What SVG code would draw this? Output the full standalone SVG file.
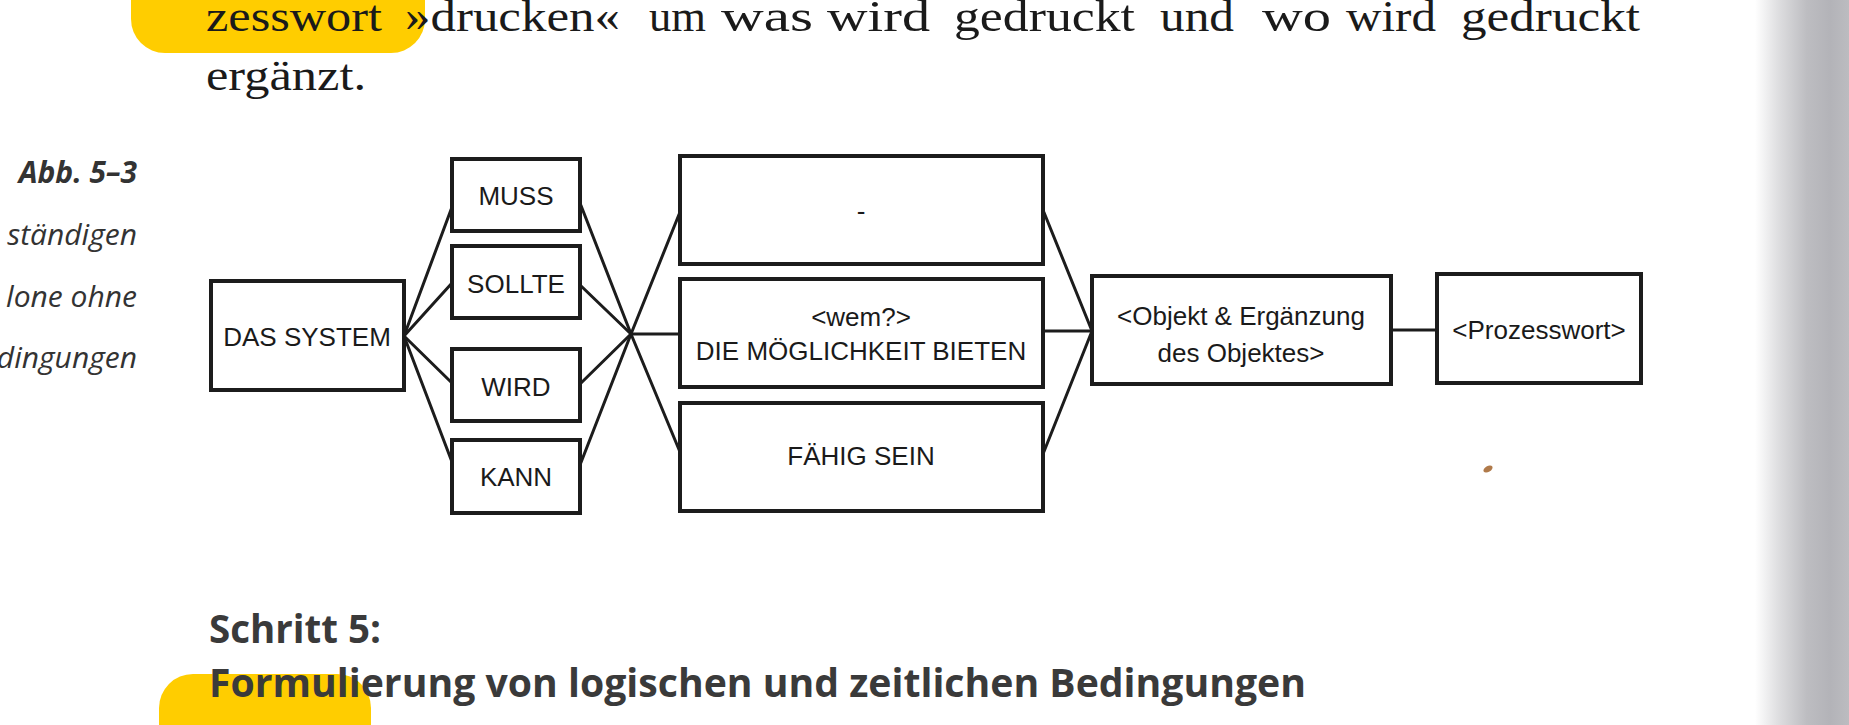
<svg xmlns="http://www.w3.org/2000/svg" width="1849" height="725" viewBox="0 0 1849 725">
<defs>
<linearGradient id="edge" x1="0" y1="0" x2="1" y2="0">
<stop offset="0" stop-color="#ffffff"/>
<stop offset="0.25" stop-color="#dedee0"/>
<stop offset="0.55" stop-color="#bdbdc1"/>
<stop offset="0.8" stop-color="#b3b3b8"/>
<stop offset="1" stop-color="#bcbcc0"/>
</linearGradient>
</defs>
<style>
.box{fill:#fff;stroke:#1c1c1c;stroke-width:4}
.lbl{font-family:"Liberation Sans",Arial,sans-serif;font-size:26px;fill:#1a1a1a;text-anchor:middle}
.con{stroke:#1c1c1c;stroke-width:3;fill:none;stroke-linecap:round}
.body{font-family:"Liberation Serif","Times New Roman",serif;font-size:45px;fill:#1a1a1a}
.cap{font-family:"Open Sans","Noto Sans",sans-serif;font-style:italic;font-size:30px;fill:#333;text-anchor:end}
.head{font-family:"Open Sans","Noto Sans",sans-serif;font-weight:bold;font-size:40px;fill:#3a3a3a}
.hl{fill:#ffcd00}
</style>
<rect x="0" y="0" width="1849" height="725" fill="#ffffff"/>
<rect x="1755" y="0" width="94" height="725" fill="url(#edge)"/>

<g id="highlights">
<rect class="hl" x="131" y="-40" width="294" height="93" rx="34"/>
<rect class="hl" x="159" y="674" width="212" height="100" rx="34"/>
</g>

<g id="page-text">
<text class="body" y="31"><tspan x="206" textLength="176" lengthAdjust="spacingAndGlyphs">zesswort</tspan><tspan x="405" textLength="215" lengthAdjust="spacingAndGlyphs">»drucken«</tspan><tspan x="649" textLength="57" lengthAdjust="spacingAndGlyphs">um</tspan><tspan x="721" textLength="92" lengthAdjust="spacingAndGlyphs">was</tspan><tspan x="827" textLength="103" lengthAdjust="spacingAndGlyphs">wird</tspan><tspan x="954" textLength="181" lengthAdjust="spacingAndGlyphs">gedruckt</tspan><tspan x="1160" textLength="74" lengthAdjust="spacingAndGlyphs">und</tspan><tspan x="1262" textLength="69" lengthAdjust="spacingAndGlyphs">wo</tspan><tspan x="1346" textLength="90" lengthAdjust="spacingAndGlyphs">wird</tspan><tspan x="1461" textLength="179" lengthAdjust="spacingAndGlyphs">gedruckt</tspan></text>
<text class="body" x="206" y="90" textLength="160" lengthAdjust="spacingAndGlyphs">ergänzt.</text>
<text class="cap" x="137" y="183" font-weight="bold" font-size="32">Abb. 5–3</text>
<text class="cap" x="137" y="245">ständigen</text>
<text class="cap" x="137" y="307">lone ohne</text>
<text class="cap" x="137" y="368">dingungen</text>
<text class="head" x="209" y="643" textLength="172" lengthAdjust="spacingAndGlyphs">Schritt 5:</text>
<text class="head" x="209" y="697" textLength="1097" lengthAdjust="spacingAndGlyphs">Formulierung von logischen und zeitlichen Bedingungen</text>
</g>

<g id="connectors">
<line class="con" x1="404" y1="336" x2="452" y2="207"/>
<line class="con" x1="404" y1="336" x2="452" y2="283"/>
<line class="con" x1="404" y1="336" x2="452" y2="383"/>
<line class="con" x1="404" y1="336" x2="452" y2="462"/>
<line class="con" x1="580" y1="203" x2="631" y2="334"/>
<line class="con" x1="580" y1="285" x2="631" y2="334"/>
<line class="con" x1="580" y1="384" x2="631" y2="334"/>
<line class="con" x1="580" y1="465" x2="631" y2="334"/>
<line class="con" x1="631" y1="334" x2="680" y2="212"/>
<line class="con" x1="631" y1="334" x2="680" y2="334"/>
<line class="con" x1="631" y1="334" x2="680" y2="452"/>
<line class="con" x1="1043" y1="210" x2="1092" y2="331"/>
<line class="con" x1="1043" y1="331" x2="1092" y2="331"/>
<line class="con" x1="1043" y1="454" x2="1092" y2="331"/>
<line class="con" x1="1391" y1="330" x2="1437" y2="330"/>
</g>

<g id="node-system">
<rect class="box" x="211" y="281" width="193" height="109"/>
<text class="lbl" x="307" y="346">DAS SYSTEM</text>
</g>
<g id="node-muss">
<rect class="box" x="452" y="159" width="128" height="72"/>
<text class="lbl" x="516" y="205">MUSS</text>
</g>
<g id="node-sollte">
<rect class="box" x="452" y="246" width="128" height="72"/>
<text class="lbl" x="516" y="293">SOLLTE</text>
</g>
<g id="node-wird">
<rect class="box" x="452" y="349" width="128" height="72"/>
<text class="lbl" x="516" y="396">WIRD</text>
</g>
<g id="node-kann">
<rect class="box" x="452" y="440" width="128" height="73"/>
<text class="lbl" x="516" y="486">KANN</text>
</g>
<g id="node-empty">
<rect class="box" x="680" y="156" width="363" height="108"/>
<text class="lbl" x="861" y="220">-</text>
</g>
<g id="node-moeglichkeit">
<rect class="box" x="680" y="279" width="363" height="108"/>
<text class="lbl" x="861" y="326">&lt;wem?&gt;</text>
<text class="lbl" x="861" y="360">DIE MÖGLICHKEIT BIETEN</text>
</g>
<g id="node-faehig">
<rect class="box" x="680" y="403" width="363" height="108"/>
<text class="lbl" x="861" y="465">FÄHIG SEIN</text>
</g>
<g id="node-objekt">
<rect class="box" x="1092" y="276" width="299" height="108"/>
<text class="lbl" x="1241" y="325">&lt;Objekt &amp; Ergänzung</text>
<text class="lbl" x="1241" y="362">des Objektes&gt;</text>
</g>
<g id="node-prozesswort">
<rect class="box" x="1437" y="274" width="204" height="109"/>
<text class="lbl" x="1539" y="339">&lt;Prozesswort&gt;</text>
</g>
<ellipse cx="1488" cy="469" rx="5" ry="3" fill="#b07a4a" transform="rotate(-30 1488 469)"/>
</svg>
